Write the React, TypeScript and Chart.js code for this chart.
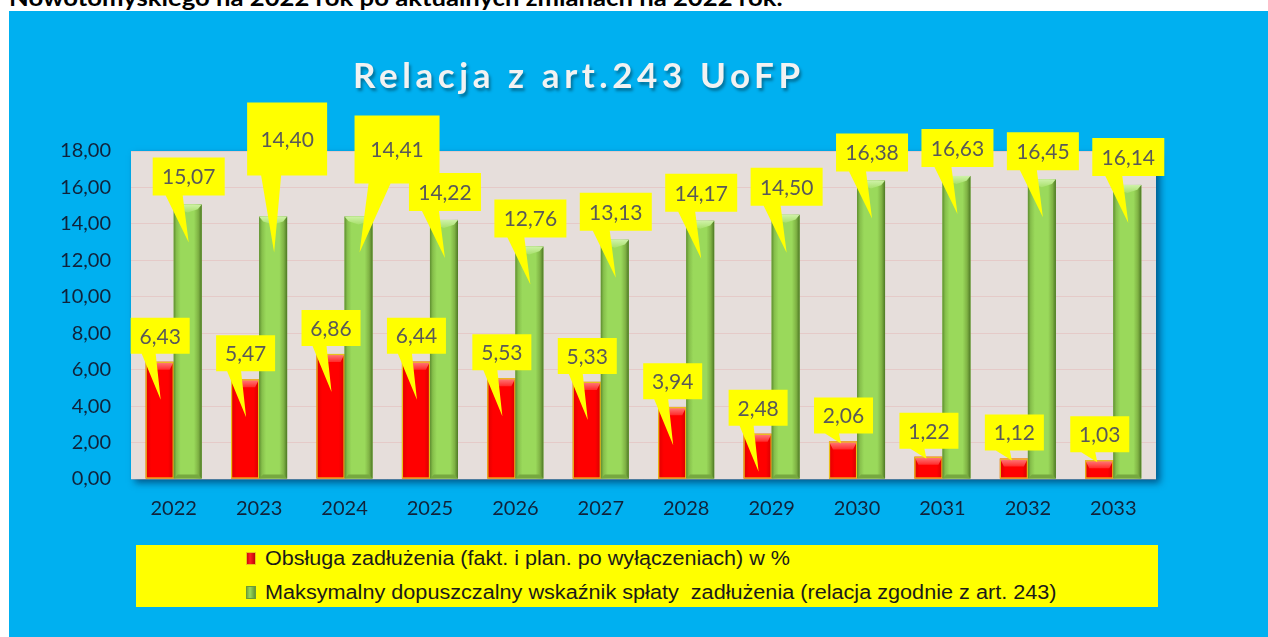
import React, { useEffect, useRef } from 'react';
import { Chart, registerables } from 'chart.js';

Chart.register(...registerables);

// ---------- data ----------
const years = ['2022', '2023', '2024', '2025', '2026', '2027', '2028', '2029', '2030', '2031', '2032', '2033'];
const debtService = [6.43, 5.47, 6.86, 6.44, 5.53, 5.33, 3.94, 2.48, 2.06, 1.22, 1.12, 1.03];
const maxIndicator = [15.07, 14.4, 14.41, 14.22, 12.76, 13.13, 14.17, 14.5, 16.38, 16.63, 16.45, 16.14];
const seriesNames = [
  'Obsługa zadłużenia (fakt. i plan. po wyłączeniach) w %',
  'Maksymalny dopuszczalny wskaźnik spłaty  zadłużenia (relacja zgodnie z art. 243)',
];
const yMin = 0;
const yMax = 18;
const yStep = 2;
const headerText = 'Nowotomyskiego na 2022 rok po aktualnych zmianach na 2022 rok.';
const titleText = 'Relacja z art.243 UoFP';

const fmt = (v: number) => v.toFixed(2).replace('.', ',');

// ---------- callout styles ----------
type Callout = { w: number; h: number; dx: number; gap: number; b0: number; b1: number; tipDy: number };
const redCallout: Callout = { w: 59, h: 36, dx: -15, gap: 8, b0: 11, b1: 25, tipDy: 38 };
const greenCallout: Callout = { w: 72, h: 38, dx: -21, gap: 9, b0: 13, b1: 30, tipDy: 38 };
const greenOverrides: Record<number, Partial<Callout>> = {
  1: { w: 80, h: 73, dx: -12, gap: 41, b0: 14, b1: 34, tipDy: 36 },
  2: { w: 85, h: 68, dx: 10, gap: 33, b0: 14, b1: 36, tipDy: 36 },
};

const bgPlugin = {
  id: 'plotBg',
  beforeDraw(chart: any) {
    const { ctx, chartArea } = chart;
    const { left, top, right, bottom } = chartArea;
    ctx.save();
    ctx.shadowColor = 'rgba(0,20,60,0.55)';
    ctx.shadowBlur = 7;
    ctx.shadowOffsetX = 4;
    ctx.shadowOffsetY = 4;
    ctx.fillStyle = '#E6DEDB';
    ctx.fillRect(left, top, right - left, bottom - top);
    ctx.restore();
  },
};

function drawCallout(ctx: CanvasRenderingContext2D, bar: any, c: Callout, text: string) {
  const { x, y, base, width } = bar.getProps(['x', 'y', 'base', 'width'], true);
  const l = x - width / 2;
  const t = Math.min(y, base);
  const b = Math.max(y, base);
  const bx = l + c.dx;
  const bb = t - c.gap;
  const bt = bb - c.h;
  const short = b - t < 42;
  const tipX = short ? x - 2 : x + 1;
  const tipY = short ? t + 2 : t + c.tipDy;
  ctx.save();
  ctx.fillStyle = '#FFFF00';
  ctx.beginPath();
  ctx.moveTo(bx, bt);
  ctx.lineTo(bx + c.w, bt);
  ctx.lineTo(bx + c.w, bb);
  ctx.lineTo(bx + c.b1, bb);
  ctx.lineTo(tipX, tipY);
  ctx.lineTo(bx + c.b0, bb);
  ctx.lineTo(bx, bb);
  ctx.closePath();
  ctx.fill();
  ctx.fillStyle = '#595959';
  ctx.font = '21px Lato';
  ctx.textAlign = 'center';
  ctx.textBaseline = 'middle';
  ctx.fillText(text, bx + c.w / 2, bt + c.h / 2 + 1);
  ctx.restore();
}

const shadePlugin = {
  id: 'shade',
  afterDatasetsDraw(chart: any) {
    const ctx: CanvasRenderingContext2D = chart.ctx;
    chart.data.datasets.forEach((_ds: any, di: number) => {
      const meta = chart.getDatasetMeta(di);
      meta.data.forEach((bar: any) => {
        const { x, y, base, width } = bar.getProps(['x', 'y', 'base', 'width'], true);
        const l = x - width / 2;
        const r = x + width / 2;
        const t = Math.min(y, base);
        const b = Math.max(y, base);
        const bv = Math.min(8, (b - t) / 2);
        ctx.save();
        if (di === 1) {
          const g = ctx.createLinearGradient(l, 0, r, 0);
          g.addColorStop(0, '#5E8E30');
          g.addColorStop(0.1, '#86BF4B');
          g.addColorStop(0.25, '#9AD95B');
          g.addColorStop(0.72, '#9AD95B');
          g.addColorStop(0.88, '#7FB244');
          g.addColorStop(1, '#4D7824');
          ctx.fillStyle = g;
          ctx.fillRect(l, t, r - l, b - t);
          ctx.beginPath();
          ctx.moveTo(l, t);
          ctx.lineTo(r, t);
          ctx.lineTo(r - 4, t + bv * 0.6);
          ctx.lineTo(x, t + bv);
          ctx.lineTo(l + 4, t + bv * 0.6);
          ctx.closePath();
          const tg = ctx.createLinearGradient(0, t, 0, t + bv);
          tg.addColorStop(0, '#CFF2A8');
          tg.addColorStop(1, '#A8E06C');
          ctx.fillStyle = tg;
          ctx.fill();
          ctx.beginPath();
          ctx.moveTo(l, b);
          ctx.lineTo(r, b);
          ctx.lineTo(r - 4, b - 4);
          ctx.lineTo(l + 4, b - 4);
          ctx.closePath();
          ctx.fillStyle = '#76A840';
          ctx.fill();
        } else {
          const g = ctx.createLinearGradient(l, 0, r, 0);
          g.addColorStop(0, '#E00000');
          g.addColorStop(0.2, '#FF0000');
          g.addColorStop(0.8, '#FF0000');
          g.addColorStop(1, '#D40000');
          ctx.fillStyle = g;
          ctx.fillRect(l, t, r - l, b - t);
          ctx.beginPath();
          ctx.moveTo(l, t);
          ctx.lineTo(r, t);
          ctx.lineTo(r - 4, t + bv);
          ctx.lineTo(l + 4, t + bv);
          ctx.closePath();
          const tg = ctx.createLinearGradient(0, t, 0, t + bv);
          tg.addColorStop(0, '#FF8080');
          tg.addColorStop(1, '#FF2A2A');
          ctx.fillStyle = tg;
          ctx.fill();
          ctx.strokeStyle = '#E8C21A';
          ctx.lineWidth = 1.2;
          ctx.strokeRect(l + 0.5, t + 0.5, r - l - 1, b - t - 1);
        }
        ctx.restore();
      });
    });
    // callouts: green first, red on top
    const gMeta = chart.getDatasetMeta(1);
    gMeta.data.forEach((bar: any, i: number) => {
      const c = { ...greenCallout, ...(greenOverrides[i] || {}) } as Callout;
      drawCallout(ctx, bar, c, fmt(maxIndicator[i]));
    });
    const rMeta = chart.getDatasetMeta(0);
    rMeta.data.forEach((bar: any, i: number) => {
      drawCallout(ctx, bar, redCallout, fmt(debtService[i]));
    });
  },
};

export default function App() {
  const canvasRef = useRef<HTMLCanvasElement | null>(null);
  const headerRef = useRef<HTMLSpanElement | null>(null);
  const titleRef = useRef<HTMLSpanElement | null>(null);
  const leg1Ref = useRef<HTMLSpanElement | null>(null);
  const leg2Ref = useRef<HTMLSpanElement | null>(null);

  useEffect(() => {
    const fitScale = (el: HTMLElement | null, target: number) => {
      if (!el) return;
      el.style.transform = '';
      const w = el.offsetWidth;
      if (w > 0) el.style.transform = `scaleX(${target / w})`;
    };
    const fitTitle = (el: HTMLElement | null, target: number, cx: number) => {
      if (!el) return;
      el.style.letterSpacing = '0px';
      const w = el.offsetWidth;
      const n = (el.textContent || '').length;
      el.style.letterSpacing = `${(target - w) / (n - 1)}px`;
      el.style.left = `${cx - target / 2}px`;
    };
    const doFit = () => {
      fitScale(headerRef.current, 774);
      fitScale(leg1Ref.current, 525);
      fitScale(leg2Ref.current, 791);
      fitTitle(titleRef.current, 447, 576.5);
    };
    doFit();
    if ((document as any).fonts && (document as any).fonts.ready) {
      (document as any).fonts.ready.then(doFit);
    }
  }, []);

  useEffect(() => {
    if (!canvasRef.current) return;
    const chart = new Chart(canvasRef.current, {
      type: 'bar',
      data: {
        labels: years,
        datasets: [
          {
            label: seriesNames[0],
            data: debtService,
            backgroundColor: '#FF0000',
            borderColor: '#E8C21A',
            borderWidth: 1,
            categoryPercentage: 0.656,
            barPercentage: 1,
          },
          {
            label: seriesNames[1],
            data: maxIndicator,
            backgroundColor: '#92D050',
            borderWidth: 0,
            categoryPercentage: 0.656,
            barPercentage: 1,
          },
        ],
      },
      options: {
        responsive: false,
        animation: false,
        devicePixelRatio: 1,
        layout: { padding: { top: 140, right: 112, bottom: 98, left: 0 } },
        plugins: {
          legend: { display: false },
          tooltip: { enabled: false },
          title: { display: false },
        },
        scales: {
          x: {
            grid: { display: false, drawTicks: false },
            border: { display: false },
            ticks: { font: { family: 'Lato', size: 20 }, color: '#10223A', padding: 18 },
            afterFit: (s: any) => {
              s.height = 60;
            },
          },
          y: {
            min: yMin,
            max: yMax,
            grid: { color: 'rgba(225,165,165,0.35)', drawTicks: false },
            border: { display: false },
            ticks: {
              stepSize: yStep,
              font: { family: 'Lato', size: 20 },
              color: '#10223A',
              padding: 20,
              callback: (v: any) => fmt(Number(v)),
            },
            afterFit: (s: any) => {
              s.width = 122;
            },
          },
        },
      },
      plugins: [bgPlugin, shadePlugin],
    });
    return () => chart.destroy();
  }, []);

  const marker = (colors: string[], edge: string) => ({
    position: 'absolute' as const,
    width: 10,
    height: 13,
    background: `linear-gradient(90deg, ${colors[0]}, ${colors[1]} 40%, ${colors[2]})`,
    boxShadow: `inset 0 0 0 1px ${edge}`,
  });

  return (
    <div style={{ position: 'absolute', left: 0, top: 0, width: 1268, height: 637, overflow: 'hidden', background: '#ffffff' }}>
      <span
        ref={headerRef}
        style={{
          position: 'absolute',
          left: 9,
          top: -15,
          whiteSpace: 'nowrap',
          font: 'bold 22px Lato',
          lineHeight: '26.4px',
          color: '#000',
          transformOrigin: '0 0',
          display: 'inline-block',
        }}
      >
        {headerText}
      </span>
      <div style={{ position: 'absolute', left: 9, top: 11, width: 1259, height: 626, background: '#00B0F0' }}>
        <canvas ref={canvasRef} width={1259} height={626} style={{ display: 'block', width: 1259, height: 626 }} />
      </div>
      <span
        ref={titleRef}
        style={{
          position: 'absolute',
          left: 353,
          top: 52.5,
          whiteSpace: 'nowrap',
          font: 'bold 35px Lato',
          lineHeight: '42px',
          color: '#F2F2F2',
          textShadow: '2px 3px 3px rgba(0,0,0,0.35)',
          display: 'inline-block',
        }}
      >
        {titleText}
      </span>
      <div style={{ position: 'absolute', left: 136, top: 545, width: 1022, height: 62, background: '#FFFF00' }}>
        <div style={{ ...marker(['#C00000', '#FF2020', '#B00000'], '#E8C21A'), left: 110, top: 7 }} />
        <span
          ref={leg1Ref}
          style={{
            position: 'absolute',
            left: 129,
            top: 2,
            whiteSpace: 'pre',
            font: '20px "Liberation Sans"',
            lineHeight: '22px',
            color: '#1A1A1A',
            transformOrigin: '0 0',
            display: 'inline-block',
          }}
        >
          {seriesNames[0]}
        </span>
        <div style={{ ...marker(['#6A9A38', '#9AD95B', '#5A8A2C'], '#6A9A38'), left: 110, top: 41 }} />
        <span
          ref={leg2Ref}
          style={{
            position: 'absolute',
            left: 129,
            top: 36,
            whiteSpace: 'pre',
            font: '20px "Liberation Sans"',
            lineHeight: '22px',
            color: '#1A1A1A',
            transformOrigin: '0 0',
            display: 'inline-block',
          }}
        >
          {seriesNames[1]}
        </span>
      </div>
    </div>
  );
}
